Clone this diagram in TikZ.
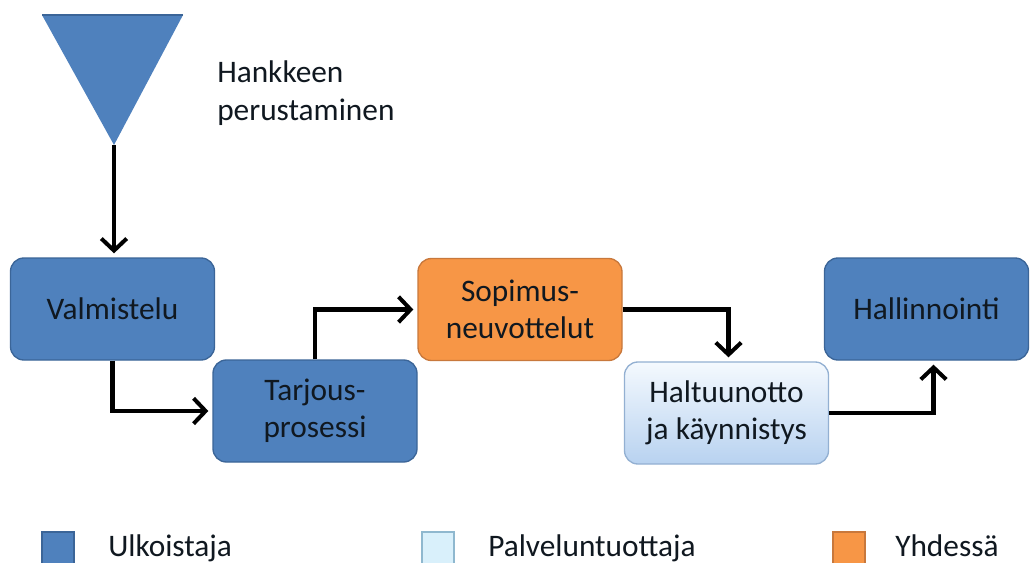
\documentclass[tikz,border=0pt]{standalone}
\usepackage{fontspec}
\setmainfont{Carlito}
\usetikzlibrary{arrows.meta,calc}
\definecolor{ulkoBlue}{HTML}{4F81BD}
\definecolor{ulkoEdge}{HTML}{3B6598}
\definecolor{yhdOrange}{HTML}{F79646}
\definecolor{yhdEdge}{HTML}{C8783C}
\definecolor{palvTop}{HTML}{F4F9FE}
\definecolor{palvBot}{HTML}{B8D2F0}
\definecolor{palvEdge}{HTML}{93B0D2}
\definecolor{legLight}{HTML}{D9F0FB}
\definecolor{legLightEdge}{HTML}{8FB8CF}
\definecolor{txt}{HTML}{101820}
% 1 unit = 0.75pt; node sizes below are given in pt
\tikzset{
  box/.style={rectangle, rounded corners=10pt, minimum width=153pt, minimum height=76.5pt,
    line width=1pt, align=center, text=txt, font=\fontsize{23.5}{27.5}\selectfont, inner sep=0pt},
  ulko/.style={box, fill=ulkoBlue, draw=ulkoEdge},
  yhd/.style={box, fill=yhdOrange, draw=yhdEdge},
  palv/.style={box, top color=palvTop, bottom color=palvBot, draw=palvEdge},
  flow/.style={line width=3.2pt, shorten >=3pt,
    -{Straight Barb[length=9pt,width=19pt,line width=3pt]}},
  legbox/.style={rectangle, minimum width=24pt, minimum height=24pt, inner sep=0pt, line width=1pt},
  legtext/.style={anchor=base west, text=txt, font=\fontsize{23.5}{27.5}\selectfont, inner sep=0pt}
}
\begin{document}
\begin{tikzpicture}[x=0.75pt,y=-0.75pt]
\useasboundingbox (0,0) rectangle (1031,563);
\fill[white] (0,0) rectangle (1031,563);

% start marker: downward triangle
\fill[ulkoBlue] (42,15) -- (183,15) -- (114,145) -- cycle;
\draw[ulkoEdge, line width=0.8pt] (42,15) -- (183,15);
\coordinate (apex) at (114,145);
\node[anchor=base west, align=left, text=txt, font=\fontsize{23.5}{28.5}\selectfont, inner sep=0pt]
  (start) at (217,121) {Hankkeen\\perustaminen};

% process steps
\node[ulko] (valm) at (112.5,309) {Valmistelu};
\node[ulko] (tarj) at (315,411) {Tarjous-\\prosessi};
\node[yhd]  (sop)  at (520,309.5) {Sopimus-\\neuvottelut};
\node[palv] (halt) at (726.5,413) {Haltuunotto\\ja käynnistys};
\node[ulko] (hall) at (926.5,309) {Hallinnointi};

% connectors
\draw[flow] (apex) -- (apex |- valm.north);
\draw[flow] (valm.south) |- (tarj.west);
\draw[flow] (tarj.north) |- (sop.west);
\coordinate (haltIn) at ($(halt.north)+(2,0)$);
\draw[flow] (sop.east) -| (haltIn);
\coordinate (hallIn) at ($(hall.south)+(7,0)$);
\draw[flow] (halt.east) -| (hallIn);

% legend
\node[legbox, fill=ulkoBlue, draw=ulkoEdge] (legA) at (58,548) {};
\node[legtext] (legAt) at (108,556) {Ulkoistaja};
\node[legbox, fill=legLight, draw=legLightEdge] (legB) at (438,548) {};
\node[legtext] (legBt) at (488,556) {Palveluntuottaja};
\node[legbox, fill=yhdOrange, draw=yhdEdge] (legC) at (849,548) {};
\node[legtext] (legCt) at (895,556) {Yhdessä};
\end{tikzpicture}
\end{document}
